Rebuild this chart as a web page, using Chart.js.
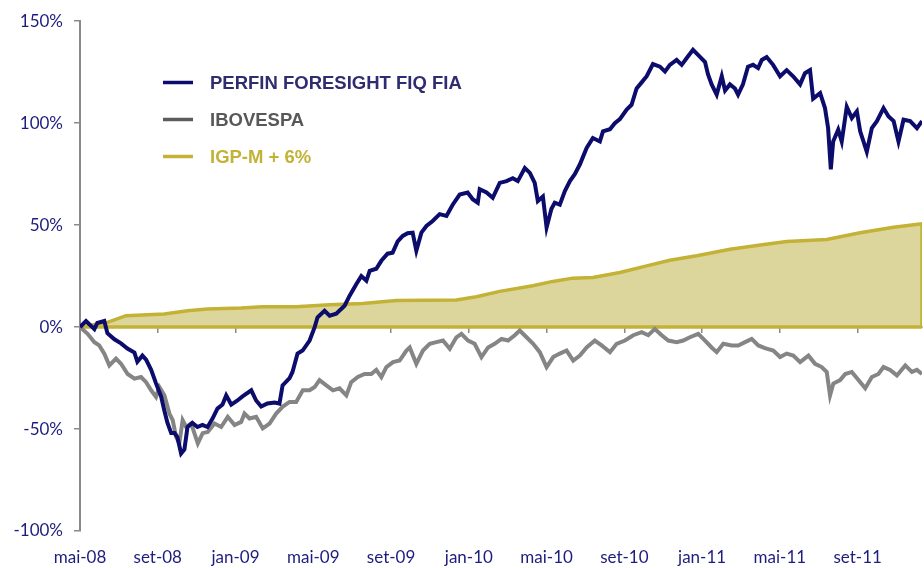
<!DOCTYPE html>
<html>
<head>
<meta charset="utf-8">
<script src="https://cdn.jsdelivr.net/npm/chart.js@4.4.0/dist/chart.umd.min.js"></script>
<style>
  html, body { margin: 0; padding: 0; background: #fff; }
</style>
</head>
<body>
<canvas id="chart" width="924" height="568"></canvas>
<script>
// months counted from mai-08
const tickLabels = ["mai-08", "set-08", "jan-09", "mai-09", "set-09", "jan-10",
    "mai-10", "set-10", "jan-11", "mai-11", "set-11"];
const seriesNames = ["PERFIN FORESIGHT FIQ FIA", "IBOVESPA", "IGP-M + 6%"];
const xEnd = 43.31;

const perfinX = [0, 0.31, 0.74, 0.89, 1.25, 1.41, 1.77, 2.11, 2.44, 2.8, 2.95, 3.21, 3.4, 3.66, 3.91,
    4.17, 4.34, 4.5, 4.69, 4.86, 5.01, 5.2, 5.37, 5.53, 5.78, 6.04, 6.3, 6.56, 6.81, 7.07, 7.33,
    7.52, 7.78, 8.1, 8.36, 8.81, 9.06, 9.32, 9.64, 10.01, 10.26, 10.42, 10.78, 10.93, 11.19,
    11.45, 11.81, 12.07, 12.22, 12.58, 12.84, 13.18, 13.61, 13.87, 14.21, 14.47, 14.73, 14.9,
    15.24, 15.5, 15.82, 16.08, 16.34, 16.6, 16.85, 17.11, 17.3, 17.56, 17.82, 18.14, 18.5,
    18.85, 19.17, 19.53, 19.94, 20.2, 20.46, 20.56, 20.91, 21.23, 21.59, 21.94, 22.26, 22.52,
    22.88, 23.14, 23.39, 23.55, 23.81, 24.0, 24.25, 24.42, 24.68, 24.94, 25.2, 25.45, 25.71,
    26.06, 26.38, 26.74, 26.9, 27.26, 27.51, 27.77, 28.12, 28.37, 28.63, 28.89, 29.15, 29.47,
    29.83, 30.09, 30.34, 30.69, 30.95, 31.2, 31.53, 31.79, 32.15, 32.3, 32.49, 32.75, 33.01,
    33.18, 33.43, 33.69, 33.85, 34.1, 34.36, 34.62, 34.88, 35.07, 35.32, 35.65, 36.01, 36.35,
    36.68, 37.04, 37.29, 37.55, 37.71, 38.07, 38.32, 38.48, 38.62, 38.74, 39.0, 39.18, 39.44,
    39.7, 39.96, 40.13, 40.47, 40.73, 40.99, 41.33, 41.59, 41.85, 42.1, 42.36, 42.7, 43.05, 43.31];
const perfinY = [0, 3, -1, 2, 3, -3, -6, -8, -10.5, -12.5, -17, -14, -16, -21, -27.6,
    -34, -41, -47, -52, -52, -54, -62, -60, -49, -47, -49, -48, -49, -45, -40, -38,
    -33.5, -38, -36, -34, -31, -36, -39, -37.5, -37, -37.5, -28.6, -25, -22, -13,
    -11.5, -6.6, 0, 4.8, 8, 5.6, 6.6, 10.5, 15.4, 21, 25, 22.7, 27.6,
    28.6, 32.5, 36, 36.5, 42, 44.7, 46, 46.3, 37.4, 46.3, 49.6, 52, 55.4,
    54.5, 60, 65, 66, 62.7, 61, 67.6, 66, 63.4, 70.7, 71.6, 73, 71.6,
    78, 75.6, 70.7, 61.8, 64, 48.8, 58, 61, 60, 66.7, 71.6, 75, 79.7,
    87.8, 92.7, 91, 96, 97, 100, 102, 106.7, 109, 117, 120, 123, 129,
    127.7, 125.3, 128.6, 131, 128.6, 131.8, 136, 133.5, 130, 124, 119, 114, 123,
    116, 119, 117, 114, 119, 127.7, 128.6, 127, 131, 132.4, 128.6, 123, 126,
    123, 119, 124.5, 126, 112, 114.7, 107.4, 97.6, 77.3, 91, 96.8, 91, 108,
    102.5, 105.8, 96, 86, 97.6, 101, 107.4, 103.3, 101, 91, 101.7, 101, 97.6, 101];

const iboveX = [0, 0.39, 0.74, 0.99, 1.25, 1.51, 1.85, 2.11, 2.45, 2.8, 3.14, 3.4, 3.66, 3.91,
    4.08, 4.34, 4.6, 4.77, 4.94, 5.11, 5.28, 5.46, 5.72, 6.06, 6.31, 6.57, 6.92, 7.26, 7.6,
    7.95, 8.29, 8.46, 8.72, 9.06, 9.4, 9.75, 10.09, 10.43, 10.78, 11.12, 11.46, 11.81, 12.07,
    12.32, 12.67, 13.01, 13.35, 13.7, 13.95, 14.29, 14.64, 14.98, 15.24, 15.5, 15.76, 16.1,
    16.44, 16.79, 16.96, 17.3, 17.64, 17.99, 18.33, 18.67, 19.02, 19.36, 19.62, 19.96, 20.3,
    20.65, 20.99, 21.33, 21.68, 22.02, 22.36, 22.62, 22.97, 23.31, 23.65, 24.0, 24.34, 24.68,
    25.03, 25.37, 25.71, 26.06, 26.48, 26.83, 27.26, 27.6, 28.03, 28.46, 28.89, 29.23, 29.57,
    29.92, 30.26, 30.69, 31.03, 31.37, 31.8, 32.15, 32.49, 32.75, 33.09, 33.52, 33.86, 34.21,
    34.55, 34.89, 35.23, 35.66, 36.01, 36.35, 36.69, 37.04, 37.47, 37.81, 38.15, 38.41, 38.58,
    38.75, 39.1, 39.36, 39.7, 40.04, 40.39, 40.73, 41.07, 41.33, 41.67, 42.02, 42.45, 42.79,
    43.05, 43.31];
const iboveY = [0, -3.3, -7.4, -9, -13, -18.8, -15.5, -18, -23, -25.3, -24.5, -27, -31, -34.3,
    -29.4, -33.5, -42.4, -45.7, -53.8, -57, -45.7, -49, -47.3, -57, -52, -51.4, -47.3, -49, -44,
    -48, -46.5, -42.4, -44.8, -44, -49.7, -47.3, -42.4, -39, -36.7, -36.7, -31, -31, -29.4,
    -26, -28.6, -31, -30, -33.5, -27, -24.5, -23, -23, -21, -24.5, -19.6, -17.2,
    -16.4, -11.5, -10, -18, -11.5, -8.2, -7.4, -6.6, -10.6, -5, -3.3, -6.6, -8.2,
    -14.7, -10, -8.2, -5.8, -6.6, -4, -1.7, -5, -8.2, -12.3, -19.6, -14.7, -13,
    -11.5, -16.4, -14, -10, -6.6, -9, -12.3, -8.2, -6.6, -4, -2.5, -4, -0.9,
    -4, -6.6, -7.4, -6.6, -5, -3.3, -6.6, -10, -12.3, -8.2, -9, -9, -7.4,
    -5.8, -9, -10.3, -11.5, -14.7, -13, -14, -17.2, -14, -18, -19.6, -22, -33.5,
    -27.7, -26, -23, -22, -26, -30, -24.5, -23, -19.6, -21, -23.7, -18.8, -22,
    -21, -23];

const igpX = [0, 1.41, 2.37, 4.34, 5.53, 6.56, 8.29, 9.39, 11.12, 12.84, 14.54, 16.27, 19.36,
    20.39, 21.59, 23.29, 24.32, 25.35, 26.38, 27.77, 29.15, 30.34, 31.72, 33.44, 35.0, 36.35,
    38.41, 40.13, 41.85, 43.31];
const igpY = [0, 2.3, 5.6, 6.4, 8, 8.9, 9.4, 10, 10, 11, 11.6, 13, 13.3,
    14.9, 17.5, 20.3, 22.4, 24, 24.3, 26.8, 30, 32.8, 35, 38.2, 40.3, 42,
    43, 46.3, 49, 50.7];

const toPoints = (xs, ys) => xs.map((x, i) => ({ x: x, y: ys[i] }));

// outline of the IGP area along zero and down its right edge
const igpEdge = [{ x: 0, y: 0 }, { x: xEnd, y: 0 }, { x: xEnd, y: igpY[igpY.length - 1] }];

const axisGrey = "#8a8a8a";
const labelNavy = "#1d1d7d";
const gold = "#c3b236";
const tickFont = { family: "Lato", size: 17 };

const legendColors = [
    { line: "#0c0c6c", text: "#302c70" },
    { line: "#5c5c5c", text: "#585858" },
    { line: gold, text: "#c2b236" }
];

const legendPlugin = {
    id: "insideLegend",
    afterDatasetsDraw(chart) {
        const ctx = chart.ctx;
        ctx.save();
        ctx.font = "bold 18.5px 'Liberation Sans', Arial, sans-serif";
        ctx.textBaseline = "middle";
        seriesNames.forEach((name, i) => {
            const y = 84 + i * 37;
            ctx.strokeStyle = legendColors[i].line;
            ctx.lineWidth = 3.5;
            ctx.beginPath();
            ctx.moveTo(163, y - 1.5);
            ctx.lineTo(193, y - 1.5);
            ctx.stroke();
            ctx.fillStyle = legendColors[i].text;
            ctx.fillText(name, 210, y);
        });
        ctx.restore();
    }
};

new Chart(document.getElementById("chart"), {
    type: "line",
    data: {
        datasets: [
            {
                label: seriesNames[0],
                data: toPoints(perfinX, perfinY),
                borderColor: "#0c0c6c",
                borderWidth: 4,
                pointRadius: 0,
                fill: false
            },
            {
                label: seriesNames[1],
                data: toPoints(iboveX, iboveY),
                borderColor: "#858585",
                borderWidth: 4,
                pointRadius: 0,
                fill: false
            },
            {
                label: "edge",
                data: igpEdge,
                borderColor: gold,
                borderWidth: 3.5,
                pointRadius: 0,
                fill: false
            },
            {
                label: seriesNames[2],
                data: toPoints(igpX, igpY),
                borderColor: gold,
                backgroundColor: "#ddd69c",
                borderWidth: 3.5,
                pointRadius: 0,
                fill: "origin"
            }
        ]
    },
    options: {
        responsive: false,
        animation: false,
        layout: { padding: { top: 19, right: 2, left: 0, bottom: 0 } },
        plugins: {
            legend: { display: false },
            tooltip: { enabled: false }
        },
        scales: {
            x: {
                type: "linear",
                min: 0,
                max: xEnd,
                afterFit: (scale) => { scale.height = 37; },
                grid: { display: false },
                border: { display: false },
                ticks: {
                    stepSize: 4,
                    includeBounds: false,
                    autoSkip: false,
                    maxRotation: 0,
                    padding: 8,
                    color: labelNavy,
                    font: tickFont,
                    callback: (v) => tickLabels[Math.round(v / 4)]
                }
            },
            x0: {
                type: "linear",
                position: { y: 0 },
                min: 0,
                max: xEnd,
                z: 1,
                grid: { drawOnChartArea: false, tickLength: 5, color: axisGrey, lineWidth: 1.5 },
                border: { color: axisGrey, width: 2 },
                ticks: { display: false, stepSize: 4, includeBounds: false }
            },
            y: {
                min: -100,
                max: 150,
                afterFit: (scale) => { scale.width = 80; },
                grid: { drawOnChartArea: false, tickLength: 6, color: axisGrey, lineWidth: 1.5 },
                border: { color: axisGrey, width: 2 },
                ticks: {
                    stepSize: 50,
                    padding: 11,
                    color: labelNavy,
                    font: tickFont,
                    callback: (v) => v + "%"
                }
            }
        }
    },
    plugins: [legendPlugin]
});
</script>
</body>
</html>
